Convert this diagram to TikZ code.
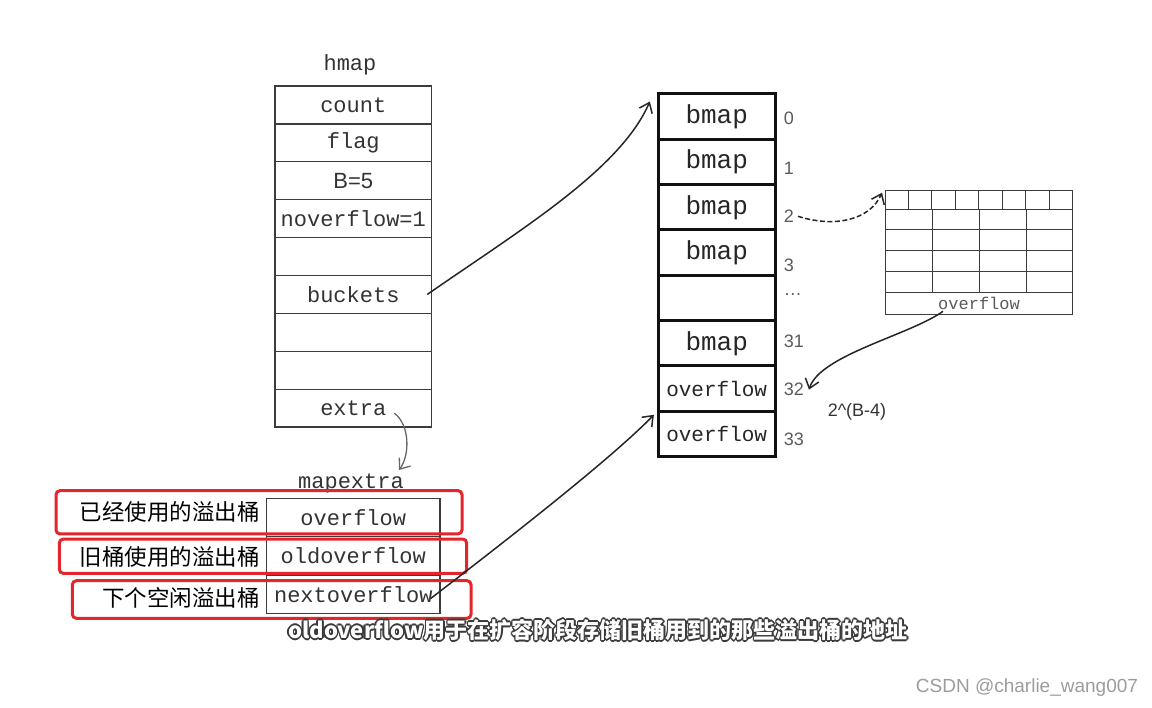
\documentclass[tikz,border=0pt]{standalone}
\usepackage{fontspec}
\setmainfont{Liberation Sans}
\setsansfont{Liberation Sans}
\setmonofont{Liberation Mono}
\newfontfamily\zhfont{Noto Sans CJK SC}
\usetikzlibrary{arrows.meta,positioning,calc}
\definecolor{cellline}{HTML}{3C3C3C}
\definecolor{celltext}{HTML}{333333}
\definecolor{slotline}{HTML}{111111}
\definecolor{idxtext}{HTML}{5A5A5A}
\definecolor{markred}{HTML}{E3262B}
\definecolor{haloline}{HTML}{3A3A3A}
\definecolor{signtext}{HTML}{9C9C9C}
\newcommand\haloed[1]{%
  \foreach \hx/\hy in {1.6/0,-1.6/0,0/1.6,0/-1.6,1.2/1.2,-1.2/1.2,1.2/-1.2,-1.2/-1.2}%
    {\rlap{\kern\hx pt\raisebox{\hy pt}{\color{haloline}#1}}}%
  {\color{white}#1}}
\newcommand\ovf{\fontsize{21}{24}\selectfont}
\tikzset{
  every node/.style={text=celltext, inner sep=0pt},
  cell/.style={rectangle, draw=cellline, line width=1.3pt,
    minimum width=156.7pt, minimum height=37.9pt,
    font=\ttfamily\fontsize{22}{26}\selectfont},
  slot/.style={rectangle, draw=slotline, line width=3pt,
    minimum width=116.7pt, minimum height=45.33pt,
    font=\ttfamily\fontsize{26}{30}\selectfont, text=black!85},
  slotidx/.style={font=\sffamily\fontsize{18}{20}\selectfont, text=idxtext,
    anchor=west},
  title/.style={font=\ttfamily\fontsize{22}{26}\selectfont},
  zhnote/.style={font=\zhfont\fontsize{22.5}{26}\selectfont, text=black,
    anchor=east},
  redmark/.style={rectangle, rounded corners=4pt, draw=markred, line width=3pt},
  gridline/.style={draw=cellline, line width=1pt},
  link/.style={-{Straight Barb[length=9pt,width=14pt]}, line width=1.5pt,
    draw=black!85},
}
\begin{document}
\begin{tikzpicture}[x=1pt,y=-1pt]
\useasboundingbox (0,0) rectangle (1152,708);

% ---- hmap ------------------------------------------------------------------
\node[title] (hlab) at (350,65) {hmap};
\foreach \lbl [count=\i] in {count,flag,{\sffamily B=5},noverflow=1,{},buckets,{},{},extra}
  \node[cell] (h\i) at (353.3,{86+37.9*(\i-0.5)}) {\lbl};

% ---- mapextra --------------------------------------------------------------
\node[title] (mlab) at (351,483) {mapextra};
\foreach \lbl/\zh/\zy [count=\i] in {overflow/已经使用的溢出桶/512,
    oldoverflow/旧桶使用的溢出桶/557, nextoverflow/下个空闲溢出桶/598} {
  \node[cell, minimum width=173.3pt, minimum height=38.5pt] (m\i)
    at (353.3,{498.3+38.5*(\i-0.5)}) {\lbl};
  \node[zhnote] (z\i) at (260,\zy) {\zh};
}
\node[redmark, minimum width=406pt, minimum height=43.3pt] (r1) at (259,512.3) {};
\node[redmark, minimum width=407.4pt, minimum height=34.3pt] (r2) at (263,556.2) {};
\node[redmark, minimum width=398.7pt, minimum height=37.6pt] (r3) at (271.7,599.5) {};

% ---- buckets array ---------------------------------------------------------
\foreach \lbl [count=\i] in {bmap,bmap,bmap,bmap,{},bmap,{\ovf overflow},{\ovf overflow}}
  \node[slot] (b\i) at (716.7,{94+45.33*(\i-0.5)}) {\lbl};
\foreach \n/\dy [count=\i] in {0/2,1/6,2/9,3/13,\ldots/-3,31/-2,32/1,33/5}
  \node[slotidx] (n\i) at ([xshift=7pt,yshift={-(\dy)*1pt}]b\i.east) {\n};

% ---- one bucket in detail --------------------------------------------------
\coordinate (gnw) at (885,190.7);
\draw[gridline] (gnw) rectangle (1072.7,314.3);
\foreach \y in {209.3,230,251,271.7,292.3}
  \draw[gridline] (885,\y) -- (1072.7,\y);
\foreach \k in {1,...,7}
  \draw[gridline] ({885+23.46*\k},190.7) -- ({885+23.46*\k},209.3);
\foreach \k in {1,2,3}
  \draw[gridline] ({885+47*\k},209.3) -- ({885+47*\k},292.3);
\node[font=\ttfamily\fontsize{17}{20}\selectfont, text=idxtext] (gov) at (979,303.3) {overflow};
\node[slotidx, anchor=center, text=celltext] (pow) at (857,412) {2\textasciicircum(B-4)};

% ---- connectors ------------------------------------------------------------
\draw[link] ([xshift=-5pt]h6.east) .. controls (520,230) and (620,170)
  .. ([xshift=-7pt,yshift=-9pt]b1.north west);
\draw[link] ([xshift=-10pt,yshift=-4pt]m3.east) .. controls (520,530) and (615,455)
  .. ([xshift=-3pt,yshift=-5pt]b8.north west);
\draw[link, draw=black!60, line width=1.3pt] ($(h9.east)+(-38,5)$)
  .. controls (410,425) and (410,455) .. ($(mlab)+(48,-13)$);
\draw[link, dash pattern=on 5pt off 2.5pt] ([xshift=4pt]n3.east)
  .. controls (835,228) and (870,220) .. ($(gnw)+(-3,2)$);
\draw[link] ($(gov)+(-36,8)$) .. controls (910,335) and (820,355)
  .. ([xshift=5pt]n7.east);

% ---- caption and mark ------------------------------------------------------
\node[font=\zhfont\bfseries\fontsize{22}{26}\selectfont] (sub) at (598,630)
  {\haloed{oldoverflow用于在扩容阶段存储旧桶用到的那些溢出桶的地址}};
\node[font=\sffamily\fontsize{19}{22}\selectfont, text=signtext] (sign) at (1027,688)
  {CSDN @charlie\_wang007};

\end{tikzpicture}
\end{document}
